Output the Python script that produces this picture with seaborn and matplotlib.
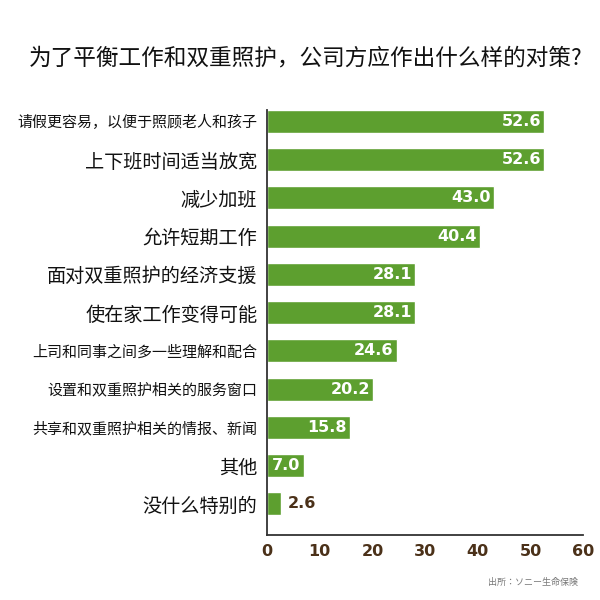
import matplotlib
matplotlib.use("Agg")
import matplotlib.pyplot as plt
import seaborn as sns
import pandas as pd

# ── data ────────────────────────────────────────────────────
measures = [
    "请假更容易，以便于照顾老人和孩子",
    "上下班时间适当放宽",
    "减少加班",
    "允许短期工作",
    "面对双重照护的经济支援",
    "使在家工作变得可能",
    "上司和同事之间多一些理解和配合",
    "设置和双重照护相关的服务窗口",
    "共享和双重照护相关的情报、新闻",
    "其他",
    "没什么特别的",
]
percent = [52.6, 52.6, 43.0, 40.4, 28.1, 28.1, 24.6, 20.2, 15.8, 7.0, 2.6]
x_ticks = [0, 10, 20, 30, 40, 50, 60]

title = "为了平衡工作和双重照护，公司方应作出什么样的对策?"
source = "出所：ソニー生命保険"

GREEN = "#5d9f2f"
BROWN = "#4b3119"
CJK = ["Noto Sans CJK SC", "DejaVu Sans"]

sns.set_style("white")
plt.rcParams["font.family"] = CJK

df = pd.DataFrame({"measure": measures, "percent": percent})

fig = plt.figure(figsize=(6, 6), dpi=100)
ax = fig.add_axes([0.445, 0.108, 0.527, 0.709])

sns.barplot(data=df, x="percent", y="measure", color=GREEN, width=0.6,
            saturation=1, ax=ax)

ax.set_xlim(0, 60)
ax.set_ylim(10.82, -0.3)
ax.set_xlabel("")
ax.set_ylabel("")
ax.set_xticks(x_ticks)
ax.set_xticklabels([str(t) for t in x_ticks], fontsize=11.5, fontweight="bold",
                   color=BROWN, family="DejaVu Sans")
ax.tick_params(axis="x", direction="in", length=8.5, width=1.3, color="#333333", pad=6)
ax.tick_params(axis="y", length=0, pad=7)

for sp in ["top", "right"]:
    ax.spines[sp].set_visible(False)
for sp in ["left", "bottom"]:
    ax.spines[sp].set_color("#333333")
    ax.spines[sp].set_linewidth(1.3)

# long labels are set smaller in the original
for lbl in ax.get_yticklabels():
    size = 10.8 if len(lbl.get_text()) > 12 else 13.8
    lbl.set_fontsize(size)
    lbl.set_color("#111111")
    lbl.set_fontweight("light")

for i, v in enumerate(percent):
    if v > 5:
        ax.text(v - 0.6, i, f"{v:.1f}", ha="right", va="center", color="white",
                fontsize=11.5, fontweight="bold", family="DejaVu Sans")
    else:
        ax.text(v + 1.4, i, f"{v:.1f}", ha="left", va="center", color=BROWN,
                fontsize=11.5, fontweight="bold", family="DejaVu Sans")

fig.text(0.51, 0.903, title, ha="center", va="center", fontsize=16.3,
         color="#111111", fontweight="light")
fig.text(0.963, 0.03, source, ha="right", va="center", fontsize=6.5, color="#777777",
         family=["Noto Sans CJK JP", "DejaVu Sans"])

fig.savefig("out.png", dpi=100)
